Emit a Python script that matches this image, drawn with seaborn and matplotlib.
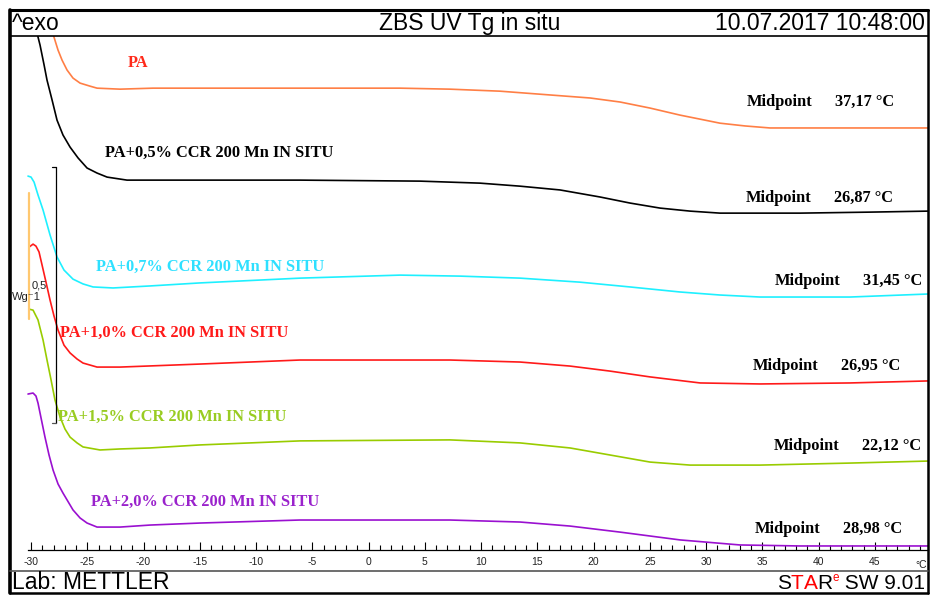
"""DSC curves: ZBS UV Tg in situ (Mettler STARe export)."""

import matplotlib
matplotlib.use("Agg")
import matplotlib.pyplot as plt
from matplotlib.lines import Line2D
from matplotlib.ticker import FixedLocator, FuncFormatter
import pandas as pd
import seaborn as sns

W, H = 930, 595

samples = [
    "PA",
    "PA+0,5% CCR 200 Mn IN SITU",
    "PA+0,7% CCR 200 Mn IN SITU",
    "PA+1,0% CCR 200 Mn IN SITU",
    "PA+1,5% CCR 200 Mn IN SITU",
    "PA+2,0% CCR 200 Mn IN SITU",
]
line_colors = ["#ff7f45", "#000000", "#1ef0ff", "#ff1a1a", "#99cc00", "#9a10d0"]
text_colors = ["#ff2a1a", "#000000", "#2ee0ff", "#ff1a1a", "#99cc22", "#9a22cc"]
midpoints = [37.17, 26.87, 31.45, 26.95, 22.12, 28.98]

# temperature (°C) / heat flow (W/g, stacked as exported)
pa_t = [-28.13, -27.6, -27.24, -26.8, -26.27, -25.64, -24.76, -24.13, -22.09, -19.16,
        -14.98, -6.09, 2.8, 7.24, 11.69, 16.13, 19.69, 22.36, 25.02, 27.69, 29.47,
        31.24, 33.47, 35.69, 42.8, 49.73]
pa_hf = [2.06, 1.984, 1.944, 1.905, 1.873, 1.853, 1.841, 1.833, 1.829, 1.833,
         1.833, 1.833, 1.833, 1.829, 1.821, 1.806, 1.794, 1.778, 1.754, 1.726, 1.71,
         1.694, 1.683, 1.675, 1.675, 1.675]

ccr05_t = [-29.47, -29.2, -28.84, -28.58, -28.13, -27.69, -27.16, -26.53, -25.82, -25.02,
           -24.13, -23.24, -21.47, -14.98, -6.09, 4.58, 9.91, 13.47, 17.02, 20.58,
           23.24, 25.91, 28.58, 31.24, 38.36, 44.58, 49.73]
ccr05_hf = [2.052, 2.004, 1.925, 1.865, 1.786, 1.706, 1.647, 1.599, 1.556, 1.516,
            1.496, 1.48, 1.468, 1.468, 1.468, 1.464, 1.456, 1.444, 1.429, 1.401,
            1.377, 1.357, 1.345, 1.337, 1.337, 1.341, 1.345]

ccr07_t = [-30.27, -30.0, -29.73, -29.38, -28.93, -28.31, -27.69, -27.07, -26.27, -25.38,
           -24.49, -22.71, -19.42, -14.98, -6.09, 2.8, 8.13, 13.47, 18.8, 23.24,
           27.69, 31.24, 34.8, 42.8, 49.73]
ccr07_hf = [1.484, 1.48, 1.46, 1.409, 1.349, 1.25, 1.163, 1.111, 1.075, 1.056,
            1.044, 1.04, 1.048, 1.06, 1.079, 1.091, 1.087, 1.079, 1.063, 1.044,
            1.024, 1.012, 1.004, 1.004, 1.016]

ccr10_t = [-30.18, -29.82, -29.56, -29.29, -29.02, -28.67, -28.31, -27.96, -27.6, -27.07,
           -26.53, -25.91, -25.38, -24.13, -22.09, -14.98, -6.09, 7.24, 13.47, 17.91,
           21.47, 25.02, 29.47, 34.8, 42.8, 49.73]
ccr10_hf = [1.202, 1.214, 1.206, 1.183, 1.131, 1.063, 0.992, 0.929, 0.873, 0.813,
            0.782, 0.758, 0.742, 0.726, 0.726, 0.738, 0.754, 0.754, 0.746, 0.73,
            0.71, 0.687, 0.663, 0.659, 0.663, 0.671]

ccr15_t = [-30.18, -29.82, -29.38, -28.93, -28.58, -28.22, -27.87, -27.42, -26.98, -26.53,
           -25.91, -25.38, -23.87, -22.09, -19.42, -14.98, -6.09, 7.24, 13.47, 17.91,
           21.47, 25.02, 28.58, 34.8, 42.8, 49.73]
ccr15_hf = [0.956, 0.952, 0.913, 0.833, 0.754, 0.675, 0.595, 0.528, 0.48, 0.448,
            0.425, 0.409, 0.397, 0.401, 0.405, 0.417, 0.433, 0.437, 0.425, 0.405,
            0.377, 0.349, 0.337, 0.337, 0.345, 0.353]

ccr20_t = [-30.27, -29.82, -29.56, -29.38, -29.11, -28.76, -28.4, -28.04, -27.6, -27.16,
           -26.27, -25.64, -25.02, -24.13, -22.09, -19.42, -14.98, -6.09, 7.24, 13.47,
           17.91, 22.36, 27.69, 33.02, 38.36, 49.73]
ccr20_hf = [0.619, 0.623, 0.611, 0.583, 0.524, 0.448, 0.377, 0.317, 0.262, 0.226,
            0.159, 0.127, 0.107, 0.091, 0.091, 0.099, 0.107, 0.119, 0.119, 0.111,
            0.095, 0.071, 0.04, 0.02, 0.016, 0.016]

temps = [pa_t, ccr05_t, ccr07_t, ccr10_t, ccr15_t, ccr20_t]
flows = [pa_hf, ccr05_hf, ccr07_hf, ccr10_hf, ccr15_hf, ccr20_hf]

x_ticks = list(range(-30, 50, 5))
x_minor = list(range(-30, 50, 1))

df = pd.concat(
    [pd.DataFrame({"T": t, "HF": hf, "sample": s}) for s, t, hf in zip(samples, temps, flows)],
    ignore_index=True,
)

sns.set_theme(style="white")
plt.rcParams["font.family"] = ["Liberation Sans", "DejaVu Sans"]
plt.rcParams["axes.unicode_minus"] = False

fig = plt.figure(figsize=(W / 100, H / 100), dpi=100)
fig.patch.set_facecolor("white")
ax = fig.add_axes([10 / W, 45 / H, 918 / W, 514 / H])
ax.set_facecolor("white")

sns.lineplot(data=df, x="T", y="HF", hue="sample", hue_order=samples,
             palette=dict(zip(samples, line_colors)), estimator=None, sort=False,
             linewidth=1.2, legend=False, ax=ax)

ax.set_xlim(-31.87, 49.73)
ax.set_ylim(0, 2.04)
ax.set_xlabel("")
ax.set_ylabel("")
ax.set_yticks([])

for side in ("left", "right"):
    ax.spines[side].set_visible(False)
ax.spines["top"].set_linewidth(1.2)
ax.spines["top"].set_color("black")
ax.spines["bottom"].set_color("black")
ax.spines["bottom"].set_linewidth(0.9)
ax.spines["bottom"].set_bounds(-30.3, 49.73)

ax.xaxis.set_major_locator(FixedLocator(x_ticks))
ax.xaxis.set_minor_locator(FixedLocator(x_minor))
ax.xaxis.set_major_formatter(FuncFormatter(lambda v, _: f"{v:g}"))
ax.tick_params(axis="x", which="major", direction="in", length=6, width=0.8,
               color="black", pad=5, labelsize=7.5, labelcolor="#222222", bottom=True)
ax.tick_params(axis="x", which="minor", direction="in", length=3.5, width=0.8,
               color="black", bottom=True)
ax.text(49.1, -0.06, "°C", fontsize=7.5, color="#222222", ha="center", va="center",
        transform=ax.transData, clip_on=False)

# curve labels
label_pos = [(-21.38, 1.933), (-23.42, 1.575), (-24.22, 1.123),
             (-27.42, 0.861), (-27.6, 0.528), (-24.67, 0.19)]
mid_pos = [(33.64, 1.778), (33.56, 1.397), (36.13, 1.067),
           (34.18, 0.73), (36.04, 0.413), (34.36, 0.083)]
serif = dict(family=["Liberation Serif", "DejaVu Serif"], fontsize=11.8, fontweight="bold")
for name, col, (lx, ly), (mx, my), mp in zip(samples, text_colors, label_pos, mid_pos, midpoints):
    ax.text(lx, ly, name, color=col, ha="left", va="center", **serif)
    ax.text(mx, my, "Midpoint", color="black", ha="left", va="center", **serif)
    ax.text(mx + 7.82, my, f"{mp:.2f}".replace(".", ",") + " °C", color="black",
            ha="left", va="center", **serif)

# step / scale bars
ax.plot([-30.22, -30.22], [0.917, 1.417], color="#ffc870", lw=1.6, clip_on=False)
ax.plot([-27.82, -27.82], [0.504, 1.52], color="black", lw=0.9)
ax.plot([-28.1, -27.82], [1.52, 1.52], color="black", lw=0.9)
ax.plot([-28.1, -27.82], [0.504, 0.504], color="#555555", lw=0.9)
ax.text(-29.91, 1.05, "0,5", fontsize=8, color="#222222", ha="left", va="center")
ax.text(-31.69, 1.004, "Wg⁻1", fontsize=8, color="#222222", ha="left", va="center")

# frame, header and footer


def fx(px):
    return px / W


def fy(py):
    return 1 - py / H


for (x0, y0, x1, y1, lw) in [(10, 10, 10, 593, 2.6), (10, 10, 928, 10, 2.2),
                             (928, 10, 928, 593, 1.8), (10, 593, 928, 593, 1.8)]:
    fig.add_artist(Line2D([fx(x0), fx(x1)], [fy(y0), fy(y1)], color="black", lw=lw,
                          transform=fig.transFigure))
fig.add_artist(Line2D([fx(10), fx(928)], [fy(571), fy(571)], color="#555555", lw=1.2,
                      transform=fig.transFigure))

head = dict(fontsize=16.5, color="black", va="baseline")
fig.text(fx(12), fy(30), "^exo", ha="left", **head)
fig.text(fx(470), fy(30), "ZBS UV Tg in situ", ha="center", **head)
fig.text(fx(925), fy(30), "10.07.2017 10:48:00", ha="right", **head)
fig.text(fx(12), fy(589), "Lab: METTLER", ha="left", **head)

# STARe SW 9.01, chained back from the right edge
fig.canvas.draw()
renderer = fig.canvas.get_renderer()
pieces = [("S", "black", 15, 0), ("T", "red", 15, 0), ("A", "red", 15, 0),
          ("R", "black", 15, 0), ("e", "red", 8.5, -8), (" SW 9.01", "black", 15, 0)]
x_cur = 925
for txt, col, size, dy in reversed(pieces):
    t = fig.text(fx(x_cur), fy(589 + dy), txt, ha="right", va="baseline",
                 fontsize=size, color=col)
    x_cur = t.get_window_extent(renderer).x0

fig.savefig("out.png", dpi=100)
